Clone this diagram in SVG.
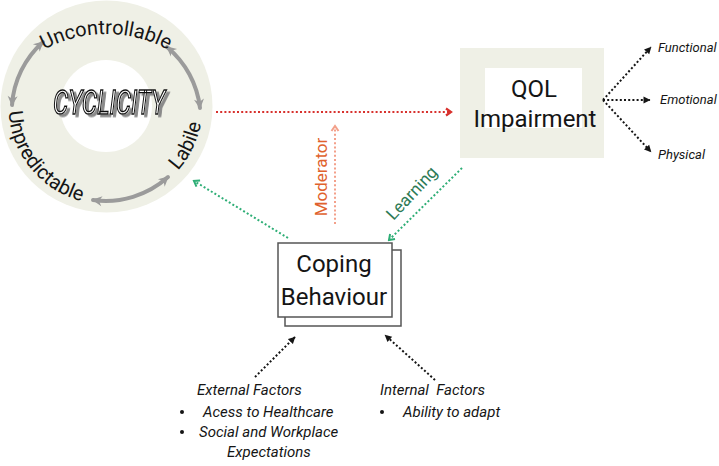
<svg xmlns="http://www.w3.org/2000/svg" width="719" height="466" viewBox="0 0 719 466">
<style>
  text { font-family: "Roboto", "Liberation Sans", "DejaVu Sans", sans-serif; fill: #151515; }
  .ring-label { font-size: 20px; }
  .node-label { font-size: 24px; }
  .small { font-size: 13px; font-style: italic; }
  .factor { font-size: 15px; font-style: italic; }
  .gray-arc { fill: none; stroke: #9b9b9b; stroke-width: 4; stroke-linecap: round; marker-start: url(#grayHead); marker-end: url(#grayHead); }
  .dot { fill: none; stroke-width: 2; stroke-dasharray: 2 2.2; }
  .red { stroke: #d8312d; marker-end: url(#redHead); }
  .salmon { stroke: #f3a08a; marker-end: url(#salmonHead); }
  .green { stroke: #2eae76; marker-end: url(#greenHead); }
  .black { stroke: #151515; marker-end: url(#blackHead); }
  .beige { fill: #eff0e6; }
</style>
<defs>
  <filter id="shadow" x="-10%" y="-20%" width="130%" height="150%">
    <feDropShadow dx="3" dy="2.5" stdDeviation="0.4" flood-color="#8a8a8a" flood-opacity="1"/>
  </filter>
  <marker id="grayHead" viewBox="0 0 12 12" refX="10" refY="6" markerWidth="12" markerHeight="12" markerUnits="userSpaceOnUse" orient="auto-start-reverse">
    <path d="M1,1 L11,6 L1,11 L4,6 z" fill="#9b9b9b"/>
  </marker>
  <marker id="redHead" viewBox="0 0 10 10" refX="8" refY="5" markerWidth="10" markerHeight="10" markerUnits="userSpaceOnUse" orient="auto">
    <path d="M3,1.5 L8,5 L3,8.5" fill="none" stroke="#d8312d" stroke-width="2.2"/>
  </marker>
  <marker id="salmonHead" viewBox="0 0 10 10" refX="8" refY="5" markerWidth="10" markerHeight="10" markerUnits="userSpaceOnUse" orient="auto">
    <path d="M3,1.5 L8,5 L3,8.5" fill="none" stroke="#f3a08a" stroke-width="2"/>
  </marker>
  <marker id="greenHead" viewBox="0 0 10 10" refX="8" refY="5" markerWidth="10" markerHeight="10" markerUnits="userSpaceOnUse" orient="auto">
    <path d="M3,1.5 L8,5 L3,8.5" fill="none" stroke="#2eae76" stroke-width="2"/>
  </marker>
  <marker id="blackHead" viewBox="0 0 8 8" refX="7" refY="4" markerWidth="8" markerHeight="8" markerUnits="userSpaceOnUse" orient="auto">
    <path d="M0.5,0.5 L7.5,4 L0.5,7.5 z" fill="#151515"/>
  </marker>
  <path id="arcTop" d="M 40 52 A 130 130 0 0 1 172 52"/>
  <path id="arcLeft" d="M 8.5 106.5 A 98 98 0 0 0 98 204.1"/>
  <path id="arcRight" d="M 172 176.7 A 96 96 0 0 0 202.1 114.9"/>
</defs>

<g id="cyclicity">
  <circle class="beige" cx="106.5" cy="106.5" r="106"/>
  <circle cx="106" cy="106" r="46" fill="#ffffff"/>
  <path class="gray-arc" d="M 43 42 A 93 93 0 0 0 12 105"/>
  <path class="gray-arc" d="M 167 47 A 93 93 0 0 1 200 108"/>
  <path class="gray-arc" d="M 93 200 A 93 93 0 0 0 168 177"/>
  <text class="ring-label"><textPath href="#arcTop" startOffset="50%" text-anchor="middle">Uncontrollable</textPath></text>
  <text class="ring-label"><textPath href="#arcLeft" startOffset="5">Unpredictable</textPath></text>
  <text class="ring-label"><textPath href="#arcRight" startOffset="50%" text-anchor="middle">Labile</textPath></text>
  <text x="53" y="114" font-size="34" font-style="italic" textLength="112" lengthAdjust="spacingAndGlyphs" filter="url(#shadow)" style="fill:#ffffff;stroke:#111111;stroke-width:1.4">CYCLICITY</text>
</g>

<g id="qol">
  <rect class="beige" x="460" y="48" width="144" height="110"/>
  <rect x="485" y="68" width="97" height="60" fill="#ffffff"/>
  <text class="node-label" x="534" y="97" text-anchor="middle">QOL</text>
  <text class="node-label" x="535" y="127" text-anchor="middle" font-size="22">Impairment</text>
</g>

<g id="coping">
  <rect x="285" y="250" width="116" height="76" fill="#ffffff" stroke="#555555" stroke-width="1.5"/>
  <rect x="278" y="243" width="114" height="74" fill="#ffffff" stroke="#555555" stroke-width="1.5"/>
  <text class="node-label" x="334" y="272" text-anchor="middle">Coping</text>
  <text class="node-label" x="334" y="305" text-anchor="middle">Behaviour</text>
</g>

<g id="functional"><text class="small" x="658" y="52">Functional</text></g>
<g id="emotional"><text class="small" x="660" y="104">Emotional</text></g>
<g id="physical"><text class="small" x="658" y="159">Physical</text></g>

<g id="external-factors">
  <text class="factor" x="197" y="395">External Factors</text>
  <circle cx="182" cy="412" r="2" fill="#151515"/>
  <text class="factor" x="203" y="417">Acess to Healthcare</text>
  <circle cx="182" cy="432" r="2" fill="#151515"/>
  <text class="factor" x="199" y="437">Social and Workplace</text>
  <text class="factor" x="227" y="457">Expectations</text>
</g>

<g id="internal-factors">
  <text class="factor" x="380" y="395" xml:space="preserve">Internal  Factors</text>
  <circle cx="382" cy="412" r="2" fill="#151515"/>
  <text class="factor" x="403" y="417">Ability to adapt</text>
</g>

<g id="connectors">
  <path class="dot red" d="M 216 112 L 451 112"/>
  <path class="dot salmon" d="M 335 224 L 335 126"/>
  <path class="dot green" d="M 462 168 L 389 240"/>
  <path class="dot green" d="M 288 238 L 194 181"/>
  <path class="dot black" d="M 603 100 L 651 47"/>
  <path class="dot black" d="M 603 100 L 650 100"/>
  <path class="dot black" d="M 603 100 L 651 152"/>
  <path class="dot black" d="M 255 377 L 295 337"/>
  <path class="dot black" d="M 435 380 L 385 335"/>
  <text x="327" y="177" font-size="17" text-anchor="middle" transform="rotate(-90 327 177)" style="fill:#e0622d">Moderator</text>
  <text x="416" y="197" font-size="17" text-anchor="middle" transform="rotate(-47 416 197)" style="fill:#2d7a55">Learning</text>
</g>
</svg>
